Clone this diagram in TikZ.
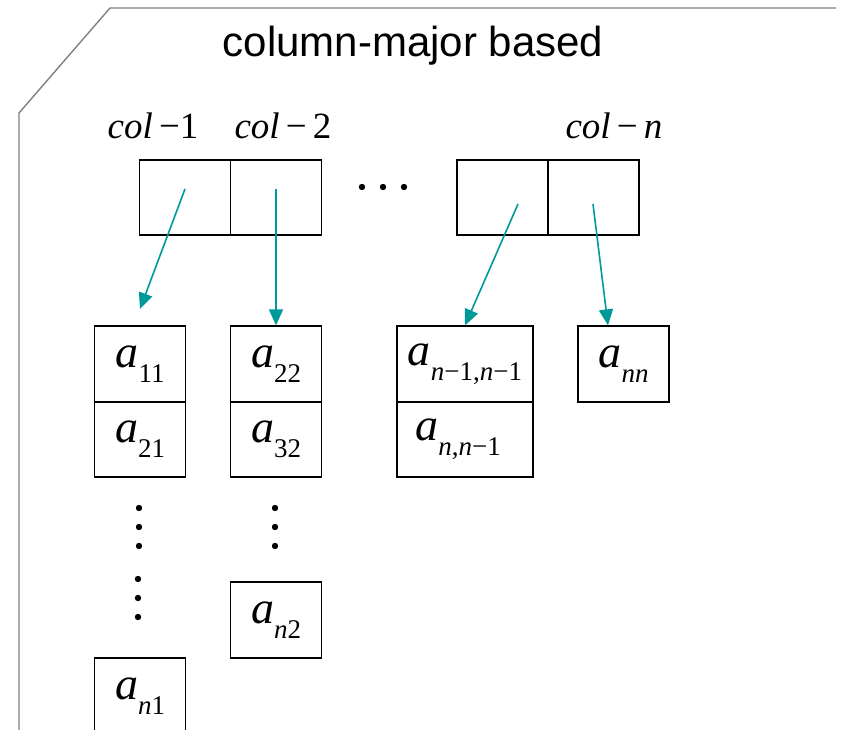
\documentclass[tikz,border=0pt]{standalone}
\usepackage{fontspec}
\setmainfont{Liberation Serif}
\newfontfamily\headfont{Liberation Sans}
\usetikzlibrary{arrows.meta}
\definecolor{pointer}{RGB}{0,153,153}
\definecolor{frame}{RGB}{128,128,128}
\newcommand\subsz{\fontsize{27}{27}\selectfont}
\newcommand\elem[1]{{\itshape a}\raisebox{-0.32em}{\subsz #1}}
\newcommand\iv[1]{{\itshape #1}}
\begin{document}
\begin{tikzpicture}[x=1pt,y=-1pt,
  cell/.style={draw=black,line width=1.7pt,rectangle,inner sep=0pt,
    minimum width=91pt,minimum height=75.5pt,font=\fontsize{46}{46}\selectfont},
  wide/.style={cell,minimum width=136pt},
  lbl/.style={inner sep=0pt,font=\fontsize{37}{37}\selectfont},
  ptr/.style={draw=pointer,line width=1.6pt,-{Triangle[length=16pt,width=14pt]}}]
\useasboundingbox (0,0) rectangle (841,730);

% outer frame with a cut corner
\draw[frame,line width=1.4pt] (19,735) -- (19,113) -- (110,8) -- (836,8);

% title
\node[font=\headfont\fontsize{42}{42}\selectfont,inner sep=0pt] (title) at (413,46) {column-major based};

% column labels
\node[lbl] (l1) at (153,126) {\iv{col}\,−1};
\node[lbl] (l2) at (283,126) {\iv{col}\,−\,2};
\node[lbl] (ln) at (614,126) {\iv{col}\,−\,\iv{n}};

% array of column pointers
\node[cell] (p1) at (185,197.5) {};
\node[cell] (p2) at (276,197.5) {};
\node[cell] (pm) at (502.5,197.5) {};
\node[cell] (pn) at (593.5,197.5) {};
\foreach \x in {362,383,404} \fill (\x,187) circle (3.2pt);

% column 1
\node[cell] (a11) at (140,364) {\elem{11}};
\node[cell] (a21) at (140,439.5) {\elem{21}};
\foreach \y in {508,527,546} \fill (139,\y) circle (3.2pt);
\foreach \y in {579,598,617} \fill (138,\y) circle (3.2pt);
\node[cell] (an1) at (140,696) {\elem{\iv{n}1}};

% column 2
\node[cell] (a22) at (276,364) {\elem{22}};
\node[cell] (a32) at (276,439.5) {\elem{32}};
\foreach \y in {508,527,546} \fill (275,\y) circle (3.2pt);
\node[cell] (an2) at (276,620) {\elem{\iv{n}2}};

% column n-1
\node[wide] (amm) at (465,364) {\elem{\iv{n}−1,\iv{n}−1}};
\node[wide] (anm) at (465,439.5) {\kern-0.3em\elem{\iv{n},\iv{n}−1}};

% column n
\node[cell] (ann) at (623.5,364) {\elem{\iv{nn}}};

% pointers
\coordinate (s1) at (185,189);
\coordinate (e1) at (140,309);
\coordinate (s2) at (276,189);
\coordinate (sm) at (518,204);
\coordinate (sn) at (593,204);
\draw[ptr] (s1) -- (e1);
\draw[ptr] (s2) -- (a22.north);
\draw[ptr] (sm) -- (amm.north);
\draw[ptr] (sn) -- ([xshift=-15.5pt]ann.north);
\end{tikzpicture}
\end{document}
